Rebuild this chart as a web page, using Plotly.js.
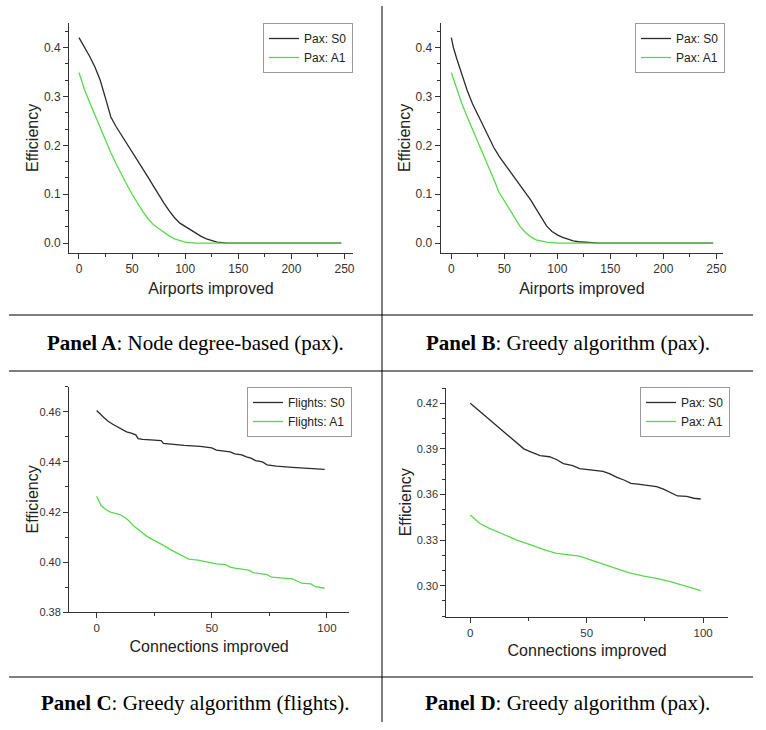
<!DOCTYPE html>
<html>
<head>
<meta charset="utf-8">
<script src="https://cdn.plot.ly/plotly-3.0.1.min.js"></script>
<style>
  html, body { margin: 0; padding: 0; background: #ffffff; }
  #chart { width: 766px; height: 730px; }
</style>
</head>
<body>
<div id="chart"></div>
<script>
// ---------- Data ----------
// Panel A: Node degree-based (pax)
const aX_S0 = [0,5,10,15,20,25,30,35,40,45,50,55,60,65,70,75,80,85,90,95,100,105,110,115,120,125,130,135,140,150,200,247];
const aY_S0 = [0.420,0.402,0.382,0.360,0.333,0.296,0.258,0.238,0.221,0.204,0.188,0.170,0.153,0.135,0.117,0.098,0.082,0.066,0.052,0.041,0.034,0.027,0.020,0.014,0.009,0.005,0.002,0.001,0.000,0.000,0.000,0.000];
const aX_A1 = [0,5,10,15,20,25,30,35,40,45,50,55,60,65,70,75,80,85,90,95,100,105,110,150,200,247];
const aY_A1 = [0.349,0.315,0.288,0.262,0.238,0.210,0.185,0.162,0.140,0.120,0.100,0.082,0.065,0.050,0.038,0.030,0.022,0.015,0.009,0.005,0.002,0.001,0.000,0.000,0.000,0.000];

// Panel B: Greedy algorithm (pax)
const bX_S0 = [0,2,5,10,15,20,25,30,35,40,45,50,55,60,65,70,75,80,85,90,95,100,105,110,115,120,125,130,140,150,200,247];
const bY_S0 = [0.420,0.400,0.378,0.345,0.312,0.285,0.262,0.240,0.218,0.196,0.178,0.163,0.148,0.133,0.118,0.105,0.088,0.070,0.052,0.035,0.024,0.017,0.012,0.008,0.005,0.003,0.002,0.001,0.000,0.000,0.000,0.000];
const bX_A1 = [0,5,10,15,20,25,30,35,40,45,50,55,60,65,70,75,80,85,90,95,100,150,200,247];
const bY_A1 = [0.349,0.315,0.285,0.258,0.233,0.208,0.182,0.157,0.131,0.104,0.086,0.068,0.050,0.034,0.022,0.013,0.007,0.004,0.002,0.001,0.000,0.000,0.000,0.000];

// Panel C: Greedy algorithm (flights)
const cX_S0 = [0,1,2,3,4,5,7,9,11,13,15,17,18,20,25,28,29,33,38,45,50,52,55,58,60,63,65,67,69,72,74,78,85,92,99];
const cY_S0 = [0.4605,0.4595,0.4585,0.4578,0.4570,0.4562,0.4550,0.4540,0.4528,0.4520,0.4515,0.4508,0.4493,0.4490,0.4487,0.4485,0.4474,0.4470,0.4466,0.4462,0.4456,0.4447,0.4445,0.4440,0.4432,0.4428,0.4420,0.4415,0.4405,0.4400,0.4388,0.4383,0.4378,0.4375,0.4370];
const cX_A1 = [0,1,2,4,6,8,10,12,14,16,18,20,22,24,26,28,30,32,34,36,38,40,44,48,52,56,58,60,64,66,68,72,74,76,80,85,87,89,93,95,99];
const cY_A1 = [0.4263,0.4245,0.4225,0.4210,0.4200,0.4195,0.4190,0.4180,0.4165,0.4145,0.4130,0.4115,0.4102,0.4092,0.4083,0.4072,0.4062,0.4050,0.4040,0.4030,0.4020,0.4012,0.4008,0.4000,0.3993,0.3990,0.3980,0.3976,0.3972,0.3968,0.3958,0.3954,0.3950,0.3940,0.3936,0.3933,0.3925,0.3916,0.3913,0.3902,0.3896];

// Panel D: Greedy algorithm (pax)
const dX_S0 = [0,5,10,15,20,23,26,30,34,37,40,44,47,51,57,60,63,66,69,72,76,80,83,86,89,93,96,99];
const dY_S0 = [0.4200,0.4135,0.4065,0.4000,0.3935,0.3900,0.3880,0.3855,0.3848,0.3830,0.3803,0.3790,0.3770,0.3762,0.3752,0.3735,0.3712,0.3695,0.3673,0.3668,0.3660,0.3652,0.3635,0.3615,0.3590,0.3587,0.3575,0.3570];
const dX_A1 = [0,4,8,14,20,26,31,37,43,47,51,57,63,68,74,80,86,91,96,99];
const dY_A1 = [0.3465,0.3410,0.3378,0.3340,0.3300,0.3268,0.3240,0.3213,0.3202,0.3195,0.3173,0.3143,0.3108,0.3086,0.3064,0.3048,0.3026,0.3004,0.2985,0.2967];

const legendNames = {
  A: ["Pax: S0", "Pax: A1"],
  B: ["Pax: S0", "Pax: A1"],
  C: ["Flights: S0", "Flights: A1"],
  D: ["Pax: S0", "Pax: A1"]
};
const xTitles = ["Airports improved", "Airports improved", "Connections improved", "Connections improved"];
const yTitle = "Efficiency";
const captions = [
  ["Panel A", ": Node degree-based (pax)."],
  ["Panel B", ": Greedy algorithm (pax)."],
  ["Panel C", ": Greedy algorithm (flights)."],
  ["Panel D", ": Greedy algorithm (pax)."]
];

// ---------- Layout helpers ----------
const W = 766, H = 730;
const px = v => v / W;
const py = v => 1 - v / H;
const BLACK = "#2b2b2b";
const GREEN = "#58d84c";
const SANS = "Liberation Sans, Arial, sans-serif";
const SERIF = "Liberation Serif, Times New Roman, serif";

function line(xs, ys, name, color, xa, ya, lg) {
  return { x: xs, y: ys, name: name, type: "scatter", mode: "lines",
    line: { color: color, width: 1.3 }, xaxis: xa, yaxis: ya, legend: lg, hoverinfo: "x+y+name" };
}

const traces = [
  line(aX_S0, aY_S0, legendNames.A[0], BLACK, "x", "y", "legend"),
  line(aX_A1, aY_A1, legendNames.A[1], GREEN, "x", "y", "legend"),
  line(bX_S0, bY_S0, legendNames.B[0], BLACK, "x2", "y2", "legend2"),
  line(bX_A1, bY_A1, legendNames.B[1], GREEN, "x2", "y2", "legend2"),
  line(cX_S0, cY_S0, legendNames.C[0], BLACK, "x3", "y3", "legend3"),
  line(cX_A1, cY_A1, legendNames.C[1], GREEN, "x3", "y3", "legend3"),
  line(dX_S0, dY_S0, legendNames.D[0], BLACK, "x4", "y4", "legend4"),
  line(dX_A1, dY_A1, legendNames.D[1], GREEN, "x4", "y4", "legend4")
];

function minor(dtick, tick0) {
  return { ticks: "outside", ticklen: 3, tickwidth: 1, tickcolor: "#333", dtick: dtick, tick0: tick0, showgrid: false };
}
function axis(extra, fsize) {
  return Object.assign({
    showline: true, linecolor: "#333", linewidth: 1, mirror: false,
    ticks: "outside", ticklen: 5, tickwidth: 1, tickcolor: "#333",
    showgrid: false, zeroline: false,
    tickfont: { family: SANS, size: fsize || 12, color: "#333" }
  }, extra);
}
function xt(text, standoff) { return { text: text, font: { family: SANS, size: 16, color: "#222" }, standoff: standoff }; }

function legendBox(x, y) {
  return { x: px(x), y: py(y), xanchor: "left", yanchor: "top", xref: "paper", yref: "paper",
    bgcolor: "#ffffff", bordercolor: "#9a9a9a", borderwidth: 1,
    font: { family: SANS, size: 12, color: "#222" }, tracegroupgap: 0 };
}

// plot-area pixel boxes [left, right, top, bottom]
const boxA = [69, 353, 23, 253];
const boxB = [440.7, 723, 23, 253];
const boxC = [69, 349.3, 386.7, 612.3];
const boxD = [446.3, 728, 388, 616.7];

const layout = {
  width: W, height: H,
  margin: { l: 0, r: 0, t: 0, b: 0, pad: 0 },
  paper_bgcolor: "#ffffff", plot_bgcolor: "#ffffff",
  showlegend: true,
  // Panel A
  xaxis: axis({ domain: [px(boxA[0]), px(boxA[1])], range: [-9.4, 258], dtick: 50, tick0: 0,
    minor: minor(25, 0), anchor: "y", title: xt(xTitles[0], 7) }),
  yaxis: axis({ domain: [py(boxA[3]), py(boxA[2])], range: [-0.02, 0.45], dtick: 0.1, tick0: 0, tickformat: ".1f",
    minor: minor(0.1 / 3, 0), anchor: "x" }),
  // Panel B
  xaxis2: axis({ domain: [px(boxB[0]), px(boxB[1])], range: [-10, 256.3], dtick: 50, tick0: 0,
    minor: minor(25, 0), anchor: "y2", title: xt(xTitles[1], 7) }),
  yaxis2: axis({ domain: [py(boxB[3]), py(boxB[2])], range: [-0.02, 0.45], dtick: 0.1, tick0: 0, tickformat: ".1f",
    minor: minor(0.1 / 3, 0), anchor: "x2" }),
  // Panel C
  xaxis3: axis({ domain: [px(boxC[0]), px(boxC[1])], range: [-12, 109.7], dtick: 50, tick0: 0,
    minor: minor(25, 0), anchor: "y3", title: xt(xTitles[2], 7) }, 11.5),
  yaxis3: axis({ domain: [py(boxC[3]), py(boxC[2])], range: [0.38, 0.470], dtick: 0.02, tick0: 0.38, tickformat: ".2f",
    minor: minor(0.01, 0.38), anchor: "x3" }, 11),
  // Panel D
  xaxis4: axis({ domain: [px(boxD[0]), px(boxD[1])], range: [-10.3, 110.7], dtick: 50, tick0: 0,
    minor: minor(25, 0), anchor: "y4", title: xt(xTitles[3], 7) }, 11.5),
  yaxis4: axis({ domain: [py(boxD[3]), py(boxD[2])], range: [0.2796, 0.430], dtick: 0.03, tick0: 0.30, tickformat: ".2f",
    minor: minor(0.01, 0.30), anchor: "x4" }, 11),
  legend: legendBox(263, 23),
  legend2: legendBox(635, 23),
  legend3: legendBox(247, 387),
  legend4: legendBox(640, 387),
  shapes: [
    { type: "line", xref: "paper", yref: "paper", x0: px(9), x1: px(753), y0: py(315), y1: py(315), line: { color: "#000", width: 1 } },
    { type: "line", xref: "paper", yref: "paper", x0: px(9), x1: px(753), y0: py(371), y1: py(371), line: { color: "#000", width: 1 } },
    { type: "line", xref: "paper", yref: "paper", x0: px(9), x1: px(753), y0: py(677), y1: py(677), line: { color: "#000", width: 1 } },
    { type: "line", xref: "paper", yref: "paper", x0: px(382), x1: px(382), y0: py(6), y1: py(722), line: { color: "#000", width: 1 } }
  ],
  annotations: [
    [195.5, 343], [567.5, 343], [195.5, 703], [567.5, 703]
  ].map((p, i) => ({
    xref: "paper", yref: "paper", x: px(p[0]), y: py(p[1]), xanchor: "center", yanchor: "middle",
    showarrow: false, text: "<b>" + captions[i][0] + "</b>" + captions[i][1],
    font: { family: SERIF, size: 21, color: "#000" }
  })).concat(
    // y-axis titles ("Efficiency"), placed a fixed distance left of each axis line
    [[32, boxA], [404, boxB], [32, boxC], [405, boxD]].map(p => ({
      xref: "paper", yref: "paper", x: px(p[0]), y: py((p[1][2] + p[1][3]) / 2),
      xanchor: "center", yanchor: "middle", textangle: -90, showarrow: false,
      text: yTitle, font: { family: SANS, size: 16, color: "#222" }
    }))
  )
};

Plotly.newPlot("chart", traces, layout, { displayModeBar: false, staticPlot: true });
</script>
</body>
</html>
